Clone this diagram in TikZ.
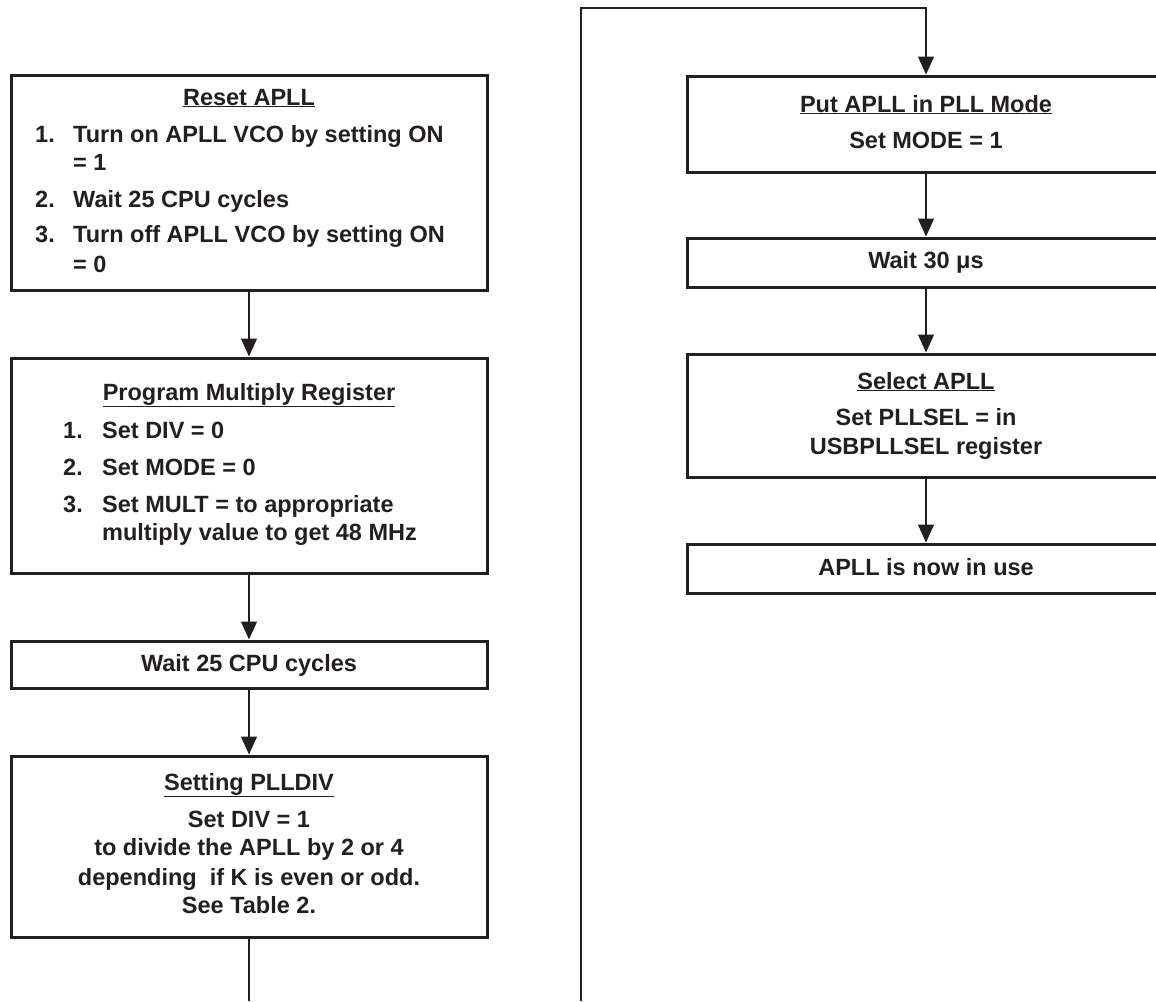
\documentclass[tikz,border=0pt]{standalone}
\usepackage{fontspec}
\setmainfont{Liberation Sans}
\usetikzlibrary{arrows.meta}
\definecolor{ink}{HTML}{231F20}
\tikzset{
  box/.style={draw=ink, line width=3pt, fill=white, inner sep=0pt, rectangle},
  conn/.style={draw=ink, line width=1.3pt},
  arr/.style={conn, -{Triangle[length=18pt,width=16pt]}},
  txt/.style={text=ink, inner sep=0pt, anchor=base, font=\fontsize{23.5}{28}\selectfont\bfseries},
  itm/.style={txt, anchor=base west}
}
\begin{document}
\begin{tikzpicture}[x=1pt,y=-1pt]
\useasboundingbox (0,0) rectangle (1156,1001);
% left column boxes
\node[box, minimum width=476pt, minimum height=215pt] (reset) at (249,182.5) {};
\node[box, minimum width=476pt, minimum height=215pt] (prog) at (249,465.5) {};
\node[box, minimum width=476pt, minimum height=47pt] (wait25) at (249,664.5) {};
\node[box, minimum width=476pt, minimum height=181pt] (plldiv) at (249,846.5) {};
% right column boxes
\node[box, minimum width=478pt, minimum height=96pt] (pllmode) at (926,124) {};
\node[box, minimum width=478pt, minimum height=49pt] (wait30) at (926,262.5) {};
\node[box, minimum width=478pt, minimum height=123pt] (sel) at (926,415.5) {};
\node[box, minimum width=478pt, minimum height=49pt] (inuse) at (926,568.5) {};
% coordinates for the free ends and corner
\coordinate (botL) at (249,1001);
\coordinate (botR) at (581,1001);
\coordinate (turn) at (581,8);
% connectors
\draw[arr] (reset.south) -- (prog.north);
\draw[arr] (prog.south) -- (wait25.north);
\draw[arr] (wait25.south) -- (plldiv.north);
\draw[conn] (plldiv.south) -- (botL);
\draw[arr] (botR) -- (turn) -| (pllmode.north);
\draw[arr] (pllmode.south) -- (wait30.north);
\draw[arr] (wait30.south) -- (sel.north);
\draw[arr] (sel.south) -- (inuse.north);
% Reset APLL text
\node[txt] (t1) at (249,105) {\underline{Reset APLL}};
\node[itm] (t1a) at (35,142) {1.};
\node[itm] (t1b) at (73,142) {Turn on APLL VCO by setting ON};
\node[itm] (t1c) at (73,170) {= 1};
\node[itm] (t1d) at (35,207) {2.};
\node[itm] (t1e) at (73,207) {Wait 25 CPU cycles};
\node[itm] (t1f) at (35,242) {3.};
\node[itm] (t1g) at (73,242) {Turn off APLL VCO by setting ON};
\node[itm] (t1h) at (73,272) {= 0};
% Program Multiply Register
\node[txt] (t2) at (249,400) {\underline{Program Multiply Register}};
\node[itm] (t2a) at (63,438) {1.};
\node[itm] (t2b) at (102,438) {Set DIV = 0};
\node[itm] (t2c) at (63,475) {2.};
\node[itm] (t2d) at (102,475) {Set MODE = 0};
\node[itm] (t2e) at (63,512) {3.};
\node[itm] (t2f) at (102,512) {Set MULT = to appropriate};
\node[itm] (t2g) at (102,540) {multiply value to get 48 MHz};
% Wait 25
\node[txt] (t3) at (249,671) {Wait 25 CPU cycles};
% Setting PLLDIV
\node[txt] (t4) at (249,790) {\underline{Setting PLLDIV}};
\node[txt] (t4a) at (249,827) {Set DIV = 1};
\node[txt] (t4b) at (249,855) {to divide the APLL by 2 or 4};
\node[txt] (t4c) at (249,885) {depending\ \ if K is even or odd.};
\node[txt] (t4d) at (249,913) {See Table 2.};
% right column text
\node[txt] (t5) at (926,112) {\underline{Put APLL in PLL Mode}};
\node[txt] (t5a) at (926,148) {Set MODE = 1};
\node[txt] (t6) at (926,268) {Wait 30 μs};
\node[txt] (t7) at (926,389) {\underline{Select APLL}};
\node[txt] (t7a) at (926,425) {Set PLLSEL = in};
\node[txt] (t7b) at (926,454) {USBPLLSEL register};
\node[txt] (t8) at (926,575) {APLL is now in use};
\end{tikzpicture}
\end{document}
